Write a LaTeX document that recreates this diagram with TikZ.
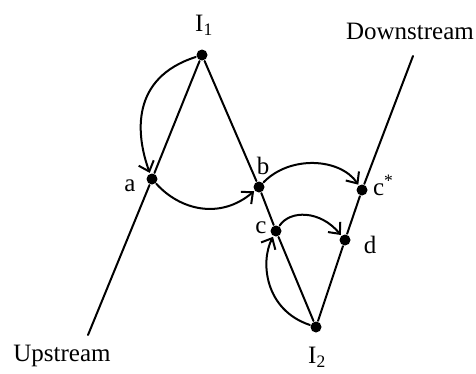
\documentclass[tikz,border=0pt]{standalone}
\usepackage{fontspec}
\setmainfont{Liberation Serif}
\usetikzlibrary{arrows.meta}
\tikzset{
  dot/.style={circle,fill,inner sep=0pt,minimum size=11pt},
  lab/.style={inner sep=0pt},
}
\begin{document}
\begin{tikzpicture}[x=1pt, y=-1pt, line width=2pt, line join=round, line cap=round, >={Straight Barb[length=9pt,width=16pt]}, font=\fontsize{25}{28}\selectfont]
			\useasboundingbox (0,0) rectangle (476,373);
			% points on the path
			\node[dot] (I1) at (202,55) {};
			\node[dot] (a) at (152,179) {};
			\node[dot] (b) at (259,187) {};
			\node[dot] (c) at (276,231) {};
			\node[dot] (I2) at (316,327) {};
			\node[dot] (d) at (345,240) {};
			\node[dot] (cs) at (362,190) {};
			\coordinate (up) at (88,335);
			\coordinate (down) at (413,56);
			\draw (up)--(a)--(I1)--(b)--(c)--(I2)--(d)--(cs)--(down);
			% labels
			\node[lab] (lI1) at (204,25) {I\textsubscript{1}};
			\node[lab] (lI2) at (317,357) {I\textsubscript{2}};
			\node[lab] (la) at (130,186) {a};
			\node[lab] (lb) at (263,166) {b};
			\node[lab] (lc) at (261,228) {c};
			\node[lab,anchor=west] (lcs) at (372,185) {c\textsuperscript{*}};
			\node[lab] (ld) at (370,245) {d};
			\node[lab] (lup) at (62,356) {Upstream};
			\node[lab] (ldown) at (410,31) {Downstream};
			% jumps
			\draw[->] (I1) .. controls (130,78) and (136,135) .. (a);
			\draw[->] (a) .. controls (180,210) and (220,220) .. (b);
			\draw[->] (b) .. controls (290,155) and (340,158) .. (cs);
			\draw[->] (c) .. controls (290,210) and (320,210) .. (d);
			\draw[->] (I2) .. controls (265,310) and (260,262) .. (c);
		\end{tikzpicture}
\end{document}
